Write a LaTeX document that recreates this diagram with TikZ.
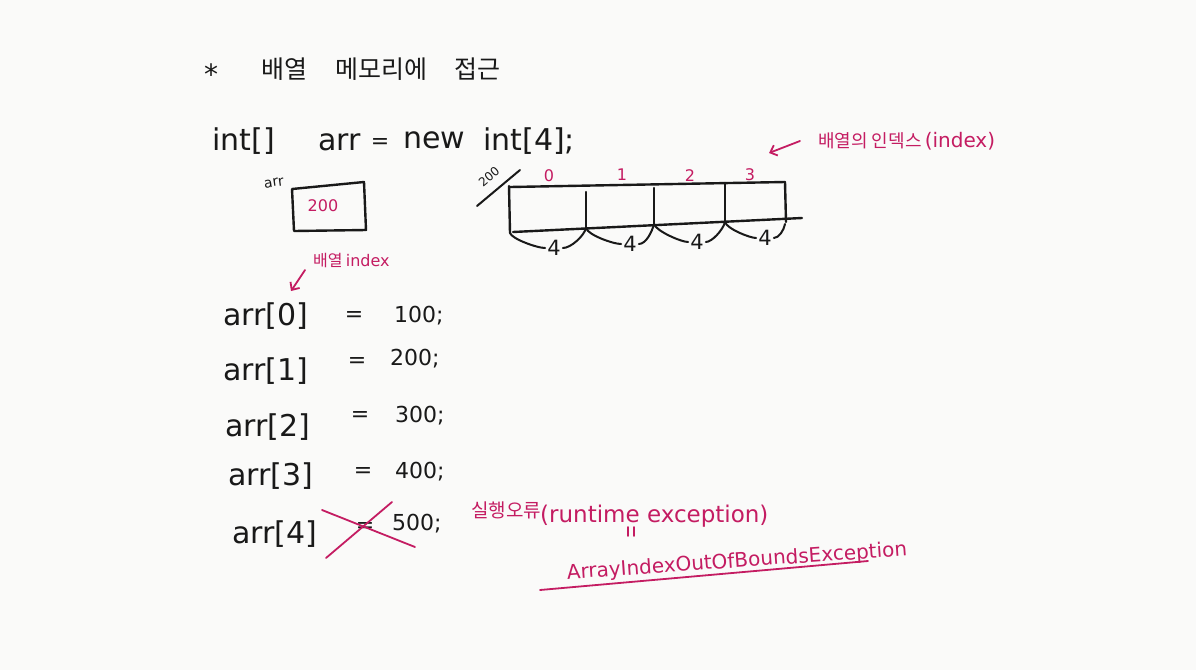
\documentclass[tikz,border=0pt]{standalone}
\usepackage{fontspec}
\setmainfont{DejaVu Sans}
\newfontfamily\kr{Noto Sans CJK KR}
\usetikzlibrary{arrows.meta}
\definecolor{ink}{RGB}{25,25,25}
\definecolor{pen}{RGB}{196,28,98}
\definecolor{paper}{RGB}{250,250,249}
\begin{document}
\begin{tikzpicture}[x=1pt,y=-1pt,
  code/.style={font=\fontsize{30}{32}\selectfont, text=ink, inner sep=0pt, anchor=base west},
  num/.style={font=\fontsize{22}{24}\selectfont, text=ink, inner sep=0pt, anchor=base west},
  eqsign/.style={font=\fontsize{22}{24}\selectfont, text=ink, inner sep=0pt},
  titletxt/.style={font=\kr\fontsize{25}{27}\selectfont, text=ink, inner sep=0pt},
  pinktxt/.style={text=pen, inner sep=0pt},
  idxnum/.style={text=pen, inner sep=0pt, font=\fontsize{16}{18}\selectfont},
  four/.style={text=ink, inner sep=2pt, font=\fontsize{21}{23}\selectfont},
  blk/.style={draw=ink, line width=2.4pt, line cap=round, line join=round},
  brace/.style={draw=ink, line width=2pt, line cap=round},
  pline/.style={draw=pen, line width=1.8pt, line cap=round, line join=round},
  barb/.style={-{Straight Barb[length=6pt,width=11pt]}}]
\fill[paper] (0,0) rectangle (1196,670);
\useasboundingbox (0,0) rectangle (1196,670);

% title
\node[text=ink, inner sep=0pt, anchor=base, font=\fontsize{28}{30}\selectfont] (star) at (211,84) {*};
\node[titletxt] (t1) at (284,69) {배열};
\node[titletxt] (t2) at (381,69) {메모리에};
\node[titletxt] (t3) at (477,69) {접근};

% declaration line
\node[code] (l1a) at (212,150) {int[]};
\node[code] (l1b) at (318,150) {arr};
\node[eqsign] (l1c) at (380,143) {=};
\node[code] (l1d) at (403,148) {new};
\node[code] (l1e) at (483,150) {int[4];};

% note: index
\node[pinktxt, anchor=west] (idx) at (818,141) {{\kr\fontsize{18}{20}\selectfont 배열의 인덱스} {\fontsize{20}{22}\selectfont (index)}};
\coordinate (idxtip) at (769,153);
\draw[pline, barb] ([xshift=-18pt]idx.west) -- (idxtip);

% reference variable
\node[text=ink, inner sep=0pt, rotate=8, font=\fontsize{14}{16}\selectfont] (arrlbl) at (274,183) {arr};
\node[pinktxt, font=\fontsize{16}{18}\selectfont] (ptrval) at (323,206) {200};
\draw[blk] (292,189) -- (364,182) -- (366,230) -- (294,231) -- cycle;

% array in memory
\node[text=ink, inner sep=0pt, rotate=40, font=\fontsize{12}{14}\selectfont] (addr) at (489,177) {200};
\draw[draw=ink, line width=2pt, line cap=round] (477,206) -- (520,170);
\node[idxnum] (i0) at (549,176) {0};
\node[idxnum] (i1) at (622,175) {1};
\node[idxnum] (i2) at (690,176) {2};
\node[idxnum] (i3) at (750,175) {3};

\coordinate (b0) at (510,233);
\coordinate (b1) at (586,228);
\coordinate (b2) at (654,224);
\coordinate (b3) at (725,222);
\coordinate (b4) at (785,224);
\draw[blk] (510,187) -- (785,182);
\draw[blk] (509,186) -- (b0);
\draw[blk] (513,232) -- (802,218);
\draw[blk] (785,182) -- (786,222);
\draw[blk] (586,192) -- (b1);
\draw[blk] (654,188) -- (b2);
\draw[blk] (725,183) -- (b3);

\node[four] (f0) at (554,248) {4};
\node[four] (f1) at (630,244) {4};
\node[four] (f2) at (697,242) {4};
\node[four] (f3) at (765,238) {4};
\draw[brace] (b0) .. controls +(2,6) and +(-8,0) .. (f0.west);
\draw[brace] (f0.east) .. controls +(8,0) and +(-2,8) .. (b1);
\draw[brace] (b1) .. controls +(2,7) and +(-8,0) .. (f1.west);
\draw[brace] (f1.east) .. controls +(7,0) and +(-2,8) .. (b2);
\draw[brace] (b2) .. controls +(2,7) and +(-7,0) .. (f2.west);
\draw[brace] (f2.east) .. controls +(6,0) and +(-2,8) .. (b3);
\draw[brace] (b3) .. controls +(2,7) and +(-6,0) .. (f3.west);
\draw[brace] (f3.east) .. controls +(5,0) and +(-1,6) .. (b4);

% note: index of element
\node[pinktxt, anchor=west] (idx2) at (313,261) {{\kr\fontsize{16}{18}\selectfont 배열} {\fontsize{16}{18}\selectfont index}};
\coordinate (idx2tip) at (291,291);
\draw[pline, barb] ([xshift=-8pt,yshift=-9pt]idx2.west) -- (idx2tip);

% assignments
\node[code] (a0) at (223,325) {arr[0]};
\node[eqsign] (e0) at (354,316) {=};
\node[num] (v0) at (394,322) {100;};
\node[code] (a1) at (223,380) {arr[1]};
\node[eqsign] (e1) at (357,362) {=};
\node[num] (v1) at (390,365) {200;};
\node[code] (a2) at (225,436) {arr[2]};
\node[eqsign] (e2) at (360,416) {=};
\node[num] (v2) at (395,422) {300;};
\node[code] (a3) at (228,485) {arr[3]};
\node[eqsign] (e3) at (363,472) {=};
\node[num] (v3) at (395,478) {400;};
\node[code] (a4) at (232,543) {arr[4]};
\node[eqsign] (e4) at (365,527) {=};
\node[num] (v4) at (392,530) {500;};

% cross
\draw[pline] (326,558) -- (392,502);
\draw[pline] (322,510) -- (415,547);

% runtime error note
\node[pinktxt, font=\kr\fontsize{19}{21}\selectfont] (err1) at (506,510) {실행오류};
\node[pinktxt, anchor=base west, font=\fontsize{23}{25}\selectfont] (err2) at (540,522) {(runtime exception)};
\draw[pline] (628,527) -- (628,536);
\draw[pline] (634,527) -- (634,536);
\node[pinktxt, rotate=4, font=\fontsize{20}{22}\selectfont] (exc) at (737,562) {ArrayIndexOutOfBoundsException};
\draw[pline] (540,590) -- (868,561);
\end{tikzpicture}
\end{document}
